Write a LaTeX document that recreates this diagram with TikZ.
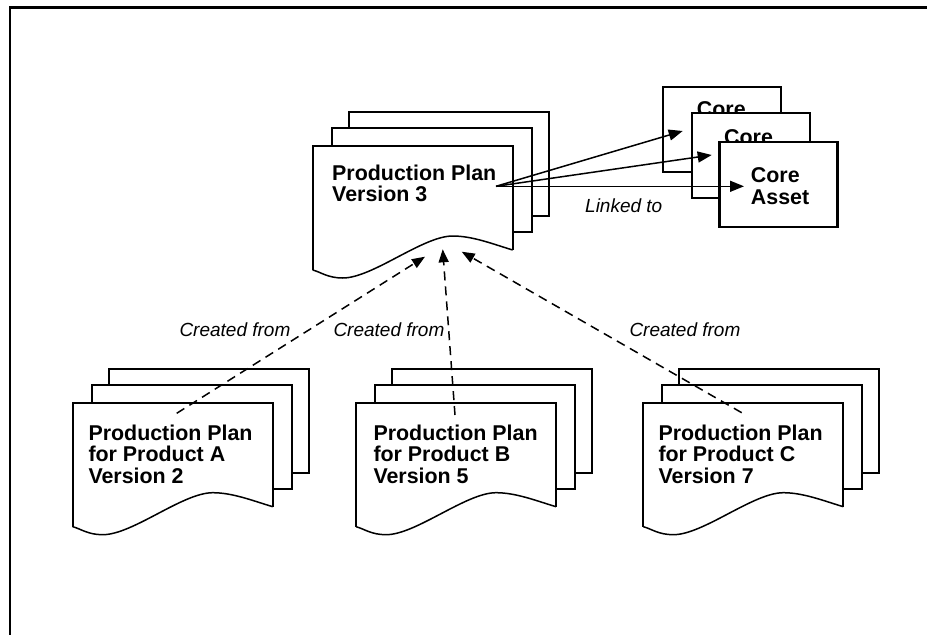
\documentclass[tikz,border=0pt]{standalone}
\usepackage{fontspec}
\setmainfont{Liberation Sans}
\usetikzlibrary{arrows.meta}
\tikzset{
  pg/.style={draw=black, fill=white, line width=2.2pt, line join=miter},
  edge/.style={line width=2.2pt, line join=miter},
  wave/.style={line width=1.5pt},
  doctext/.style={font=\bfseries\fontsize{21.4}{21.5}\selectfont, align=left, anchor=north west, inner sep=0pt},
  lbl/.style={font=\itshape\fontsize{19}{22}\selectfont, anchor=base west, inner sep=0pt},
  corebox/.style={draw, fill=white, line width=2.2pt, minimum width=118pt, minimum height=85pt, inner sep=0pt},
  link/.style={line width=1.5pt, -{Triangle[length=14pt,width=11pt]}},
  created/.style={line width=1.5pt, dash pattern=on 9pt off 6pt, -{Triangle[length=13pt,width=10pt]}},
  frame/.style={line width=2.2pt, line join=miter},
}
\newcommand\wv[2]{.. controls (#1+180,#2+98) and (#1+160,#2+90) .. (#1+140,#2+90) .. controls (#1+110,#2+90) and (#1+60,#2+132) .. (#1+30,#2+132) .. controls (#1+15,#2+132) and (#1+8,#2+126) .. (#1,#2+124)}
\newcommand\plandoc[2]{%
  \filldraw[pg] (#1+36,#2-34) rectangle (#1+236,#2+70);
  \filldraw[pg] (#1+19,#2-18) rectangle (#1+219,#2+86);
  \fill[white] (#1,#2) -- (#1+200,#2) -- (#1+200,#2+104) \wv{#1}{#2} -- cycle;
  \draw[edge] (#1,#2+124) -- (#1,#2) -- (#1+200,#2) -- (#1+200,#2+104);
  \draw[wave] (#1+200,#2+104) \wv{#1}{#2};
}
\begin{document}
\begin{tikzpicture}[x=1pt,y=-1pt]
\useasboundingbox (0,0) rectangle (927,635);
\fill[white] (0,0) rectangle (927,635);
\draw[frame] (927,7.5) -- (10,7.5) -- (10,635);

% top production plan
\plandoc{312.7}{146}
\node[doctext] (pp3) at (332,164.7) {Production Plan\\Version 3};

% core assets
\node[corebox] (core1) at (721.8,129.2) {};
\node[doctext] (core1t) at (696.7,101.4) {Core};
\node[corebox] (core2) at (750.8,155.5) {};
\node[doctext] (core2t) at (724,129.7) {Core};
\node[corebox] (core3) at (778.5,184.7) {};
\node[doctext] (core3t) at (750.7,167.7) {Core\\Asset};

% bottom plans
\plandoc{72.7}{402.7}
\node[doctext] (ppa) at (88.3,424.7) {Production Plan\\for Product A\\Version 2};
\plandoc{356}{402.7}
\node[doctext] (ppb) at (373.3,424.7) {Production Plan\\for Product B\\Version 5};
\plandoc{643.3}{402.7}
\node[doctext] (ppc) at (658.3,424.7) {Production Plan\\for Product C\\Version 7};

% connector end points
\coordinate (src) at (496,186.3);
\coordinate (t1) at (682.7,131);
\coordinate (t2) at (711.7,155);
\coordinate (t3) at (744,186.3);
\coordinate (a0) at (176.7,413.3);
\coordinate (a1) at (425,256.7);
\coordinate (b0) at (455,415);
\coordinate (b1) at (442.7,249.3);
\coordinate (c0) at (741.7,412.7);
\coordinate (c1) at (461.7,251.7);

\draw[link] (src) -- (t1);
\draw[link] (src) -- (t2);
\draw[link] (src) -- (t3);
\draw[created] (a0) -- (a1);
\draw[created] (b0) -- (b1);
\draw[created] (c0) -- (c1);

% labels
\node[lbl] (lnk) at (585,212.7) {Linked to};
\node[lbl] (cfa) at (179.3,336.7) {Created from};
\node[lbl] (cfb) at (333.3,336.7) {Created from};
\node[lbl] (cfc) at (629.3,336.7) {Created from};
\end{tikzpicture}
\end{document}
